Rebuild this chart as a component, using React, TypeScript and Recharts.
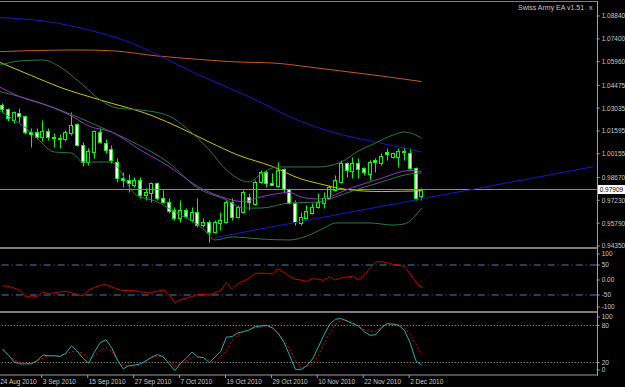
import { ComposedChart, Line, Bar, XAxis, YAxis, ReferenceLine } from "recharts";

// ---- layout ----
const BAR = 5.74; // px per bar on the time axis
const FUTURE = 30; // empty bars right of the last candle
const AXIS_W = 28;
const FONT = '"Liberation Sans", Arial, sans-serif';
const TXT = "#c8c8c8";
const AXIS = "#a0a0a0";
const LIME = "#00ff00";
const BB = "#277a45";

// ---- data (daily bars, 25 Aug .. 6 Dec 2010) ----
const opens = [
  1.0323, 1.0298, 1.0229, 1.0273, 1.0254, 1.0153, 1.0153, 1.0122, 1.016, 1.0122,
  1.0115, 1.0109, 1.0147, 1.0204, 1.0071, 0.9964, 1.0027, 1.0153, 1.0084, 1.0046,
  0.9964, 0.9863, 0.9851, 0.9819, 0.9851, 0.9756, 0.9769, 0.9832, 0.9737, 0.9712,
  0.9662, 0.9611, 0.9662, 0.9599, 0.9649, 0.9567, 0.9586, 0.9523, 0.958, 0.9586,
  0.9712, 0.9618, 0.9649, 0.9744, 0.97, 0.9838, 0.9901, 0.9832, 0.9813, 0.992,
  0.9794, 0.9706, 0.958, 0.9611, 0.9643, 0.9681, 0.9706, 0.9737, 0.9788, 0.9838,
  0.9958, 0.9907, 0.9958, 0.9926, 0.9889, 0.9977, 0.9958, 1.0027, 0.9996, 0.9996,
  1.0034, 1.0021, 0.9926, 0.975,
];
const highs = [
  1.0336, 1.0304, 1.0286, 1.0304, 1.026, 1.0178, 1.0178, 1.0229, 1.0178, 1.0147,
  1.0141, 1.0166, 1.0279, 1.021, 1.009, 1.0052, 1.0166, 1.0178, 1.0109, 1.0071,
  0.9989, 0.9901, 0.9889, 0.987, 0.987, 0.98, 0.9838, 0.9838, 0.9788, 0.9737,
  0.9681, 0.9725, 0.9674, 0.9681, 0.9737, 0.9611, 0.9599, 0.9599, 0.9649, 0.9725,
  0.9737, 0.9693, 0.9788, 0.9769, 0.9851, 0.9914, 0.9914, 0.9895, 0.9964, 0.9926,
  0.98, 0.9725, 0.9649, 0.9693, 0.9706, 0.9769, 0.9775, 0.9819, 0.9882, 0.9977,
  0.9964, 0.9996, 0.9989, 0.9933, 0.9977, 0.9989, 1.0021, 1.0052, 1.0027, 1.0052,
  1.0059, 1.0052, 0.9933, 0.98,
];
const lows = [
  1.0279, 1.0223, 1.021, 1.0216, 1.0141, 1.0059, 1.0109, 1.0097, 1.0103, 1.0059,
  1.0052, 1.0097, 1.0134, 1.0065, 0.9939, 0.9945, 0.9989, 1.0084, 1.0021, 0.9958,
  0.9838, 0.9807, 0.9775, 0.9807, 0.9737, 0.9725, 0.9712, 0.9725, 0.9706, 0.9643,
  0.9599, 0.9586, 0.9611, 0.9586, 0.9555, 0.9555, 0.946, 0.9517, 0.9536, 0.958,
  0.9599, 0.9611, 0.9643, 0.9662, 0.9693, 0.9832, 0.9807, 0.9819, 0.9807, 0.9769,
  0.97, 0.9567, 0.9567, 0.9605, 0.9637, 0.9674, 0.9674, 0.9731, 0.9782, 0.9832,
  0.987, 0.9863, 0.9863, 0.9882, 0.9851, 0.9901, 0.9945, 0.9977, 0.9989, 0.9933,
  0.9977, 0.9914, 0.9725, 0.9725,
];
const closes = [
  1.0298, 1.0241, 1.0279, 1.0254, 1.0153, 1.0141, 1.0122, 1.016, 1.0122, 1.0115,
  1.0109, 1.0153, 1.0197, 1.0071, 0.9964, 1.0034, 1.016, 1.009, 1.004, 0.9977,
  0.9863, 0.9851, 0.9832, 0.9851, 0.9756, 0.9775, 0.9832, 0.9737, 0.9712, 0.9656,
  0.9611, 0.9662, 0.9624, 0.9649, 0.9567, 0.9586, 0.9523, 0.9586, 0.9599, 0.9712,
  0.9618, 0.9681, 0.9775, 0.9712, 0.9838, 0.9901, 0.9832, 0.9819, 0.9914, 0.9794,
  0.9706, 0.9586, 0.9618, 0.9656, 0.9681, 0.9712, 0.9737, 0.9807, 0.9851, 0.9958,
  0.9914, 0.9958, 0.992, 0.9901, 0.9964, 0.9964, 1.0002, 1.0015, 1.0021, 1.0034,
  1.0027, 0.9926, 0.9737, 0.97909,
];
const LAST = 0.97909;

const cci = [
  -20, -20, -27, -33, -57, -53, -55, -40, -45, -43,
  -40, -37, -43, -48, -53, -33, -25, -18, -15, -23,
  -30, -35, -35, -35, -40, -41, -41, -37, -33, -48,
  -76, -65, -60, -55, -48, -48, -50, -42, -35, -9,
  -30, -13, -3, 7, 22, 23, 22, 20, 37, 25,
  12, 2, 0, -5, 5, 2, -1, 11, 0, 7,
  10, 13, 1, 15, 40, 60, 61, 58, 52, 50,
  45, 20, -7, -25,
];
const stochMain = [
  42, 32, 21, 18, 18, 18, 23, 32, 31, 31,
  30, 35, 47, 39, 27, 19, 37, 52, 57, 44,
  24, 10, 15, 16, 18, 23, 29, 33, 29, 18,
  7, 19, 27, 37, 29, 28, 20, 29, 38, 61,
  62, 68, 70, 73, 78, 79, 80, 76, 67, 53,
  32, 9, 9, 15, 26, 45, 65, 82, 90, 91,
  87, 83, 79, 70, 64, 65, 76, 83, 82, 80,
  72, 52, 23, 16,
];
const stochSignal = [
  40, 32, 24, 21, 19, 19, 23, 27, 31, 31,
  31, 34, 38, 38, 35, 26, 31, 39, 45, 39,
  24, 15, 15, 14, 16, 23, 28, 30, 31, 22,
  14, 18, 23, 28, 30, 27, 24, 20, 30, 40,
  55, 65, 69, 73, 76, 77, 79, 76, 69, 56,
  42, 24, 11, 14, 18, 32, 50, 68, 82, 89,
  88, 86, 77, 73, 71, 70, 77, 81, 82, 81,
  76, 65, 50, 32,
];

// moving averages / bands read at a few bars each: [slot, price]
const maSlow = [[0, 1.0659], [14, 1.067], [20, 1.0665], [28, 1.0632], [35, 1.0611], [41, 1.0596], [49, 1.0586], [53, 1.0569], [61, 1.0533], [67, 1.0506], [74, 1.0471]];
const maBlue = [[0, 1.0875], [9, 1.0848], [18, 1.0777], [23, 1.072], [27, 1.0657], [35, 1.0516], [44, 1.0374], [53, 1.0219], [59, 1.0147], [65, 1.0097], [70, 1.0059], [74, 1.0027]];
const maYellow = [[0, 1.06], [6, 1.0509], [11, 1.0435], [18, 1.0355], [27, 1.0257], [32, 1.0178], [37, 1.009], [42, 1.0008], [48, 0.9936], [53, 0.9857], [56, 0.9829], [61, 0.9791], [67, 0.9778], [74, 0.9783]];
const maPurple = [[0, 1.0446], [4, 1.0376], [9, 1.0317], [13, 1.0254], [16, 1.0191], [20, 1.0153], [25, 1.004], [30, 0.9936], [35, 0.981], [39, 0.9746], [43, 0.9714], [46, 0.9744], [51, 0.9772], [53, 0.9744], [56, 0.9731], [62, 0.9804], [67, 0.9862], [72, 0.9911], [74, 0.9904]];
const bbUpper = [[0, 1.0569], [4, 1.0601], [8, 1.0607], [11, 1.0563], [15, 1.0449], [18, 1.0355], [21, 1.0304], [25, 1.0292], [30, 1.0254], [33, 1.0178], [37, 1.004], [40, 0.9914], [44, 0.9838], [46, 0.9889], [49, 0.9933], [56, 0.9933], [60, 0.9964], [63, 1.0034], [66, 1.0084], [69, 1.0134], [71, 1.0153], [74, 1.0115]];
const bbMiddle = [[0, 1.0412], [6, 1.0355], [11, 1.0292], [18, 1.0185], [24, 1.0084], [30, 0.9958], [35, 0.98], [40, 0.9725], [43, 0.9674], [46, 0.9674], [51, 0.9706], [56, 0.9712], [59, 0.9744], [62, 0.9782], [67, 0.9838], [72, 0.9889], [74, 0.9895]];
const bbLower = [[0, 1.0298], [6, 1.0153], [10, 1.0027], [13, 1.0021], [15, 0.9964], [20, 0.9964], [21, 0.9933], [24, 0.9763], [28, 0.9712], [31, 0.9649], [33, 0.9611], [36, 0.9542], [38, 0.9473], [41, 0.9492], [46, 0.9479], [51, 0.9473], [54, 0.9498], [57, 0.9548], [59, 0.958], [65, 0.958], [69, 0.9567], [71, 0.9574], [74, 0.9674]];
const trendLine = [[38, 0.9488], [104, 0.9935]];

const priceTicks = [1.0884, 1.074, 1.0596, 1.04475, 1.03035, 1.01595, 1.00155, 0.9867, LAST, 0.9723, 0.9579, 0.9435];
const cciTicks = [100, 50, 0, -50, -100];
const stochTicks = [100, 80, 20, 0];
const dateLabels = ["24 Aug 2010", "3 Sep 2010", "15 Sep 2010", "27 Sep 2010", "7 Oct 2010", "19 Oct 2010", "29 Oct 2010", "10 Nov 2010", "22 Nov 2010", "2 Dec 2010"];
const dateSlots = [0, 8, 16, 24, 32, 40, 48, 56, 64, 72];

// ---- table: slot 0 is the bar before the first visible candle ----
const N = 1 + opens.length + FUTURE;
const rows: any[] = Array.from({ length: N }, (_, k) => ({ k }));
opens.forEach((o, i) => {
  Object.assign(rows[i + 1], {
    o, h: highs[i], l: lows[i], c: closes[i],
    cci: cci[i], sk: stochMain[i], sd: stochSignal[i],
  });
});
const put = (key: string, pts: number[][]) => pts.forEach(([k, v]) => (rows[k][key] = v));
put("maSlow", maSlow);
put("maBlue", maBlue);
put("maYellow", maYellow);
put("maPurple", maPurple);
put("bbU", bbUpper);
put("bbM", bbMiddle);
put("bbL", bbLower);
put("trend", trendLine);

const dateMap: Record<number, string> = {};
dateSlots.forEach((k, i) => (dateMap[k] = dateLabels[i]));

const CW = N * BAR + AXIS_W;

function Candle(props: any) {
  const { x, y, width, height, payload } = props;
  if (!payload || payload.o == null) return <g />;
  const { o, h, l, c } = payload;
  const top = Math.min(y, y + height);
  const span = Math.abs(height);
  const ppu = span / (h - l || 1);
  const py = (v: number) => Math.round(top + (h - v) * ppu) + 0.5;
  const c0 = Math.floor(x + width / 2);
  const bull = c >= o;
  const y1 = py(Math.max(o, c));
  const y2 = py(Math.min(o, c));
  return (
    <g>
      <line x1={c0 + 0.5} x2={c0 + 0.5} y1={py(h)} y2={py(l)} stroke={LIME} strokeWidth={1} />
      {y2 - y1 < 1 ? (
        <line x1={c0 - 1.5} x2={c0 + 2.5} y1={y1} y2={y1} stroke={LIME} />
      ) : (
        <rect x={c0 - 1.5} y={y1} width={3} height={y2 - y1} fill={bull ? "#000" : "#fff"} stroke={LIME} strokeWidth={1} />
      )}
    </g>
  );
}

function PriceTick({ x, y, payload }: any) {
  const v = payload.value;
  if (v === LAST) {
    return (
      <g>
        <rect x={x + 1} y={y - 4.5} width={28} height={9} fill="#fff" />
        <text x={x + 3} y={y + 2.5} fontSize={6.5} fontFamily={FONT} fill="#000">{v.toFixed(5)}</text>
      </g>
    );
  }
  return (
    <g>
      <line x1={x} x2={x + 3} y1={y} y2={y} stroke={AXIS} />
      <text x={x + 5} y={y + 2.5} fontSize={6.5} fontFamily={FONT} fill={TXT}>{v.toFixed(5)}</text>
    </g>
  );
}

function makeLevelTick(shift: Record<number, number>, fmt: (v: number) => string) {
  return ({ x, y, payload }: any) => {
    const v = payload.value;
    const dy = shift[v] || 0;
    return (
      <g>
        <line x1={x} x2={x + 3} y1={y + dy} y2={y + dy} stroke={AXIS} />
        <text x={x + 5} y={y + dy + 2.5} fontSize={6.5} fontFamily={FONT} fill={TXT}>{fmt(v)}</text>
      </g>
    );
  };
}
const CciTick = makeLevelTick({ 100: 4, [-100]: -3 }, (v) => (v === 0 ? "0.00" : String(v)));
const StochTick = makeLevelTick({ 100: 4, 0: -5 }, (v) => String(v));

function DateTick({ x, y, payload }: any) {
  const label = dateMap[payload.value];
  if (!label) return <g />;
  // first label would start left of the window edge; keep it inside
  const tx = Math.max(x, BAR + 0.5);
  return (
    <g>
      <line x1={x - 1} x2={x - 1} y1={y} y2={y + 3} stroke={AXIS} />
      <text x={tx} y={y + 9.5} fontSize={6.5} fontFamily={FONT} fill={TXT}>{label}</text>
    </g>
  );
}

const lineProps = { dot: false, activeDot: false, connectNulls: true, isAnimationActive: false, strokeWidth: 1 } as const;

export default function App() {
  return (
    <div style={{ position: "fixed", left: 0, top: 0, width: 625, height: 387, background: "#000", overflow: "hidden", fontFamily: FONT }}>
      {/* main price window */}
      <div style={{ position: "absolute", left: -BAR, top: 0 }}>
        <ComposedChart width={CW} height={250} data={rows} margin={{ top: 2, right: 0, bottom: 4, left: 0 }}>
          <XAxis dataKey="k" scale="band" hide />
          <YAxis
            orientation="right"
            width={AXIS_W}
            domain={[0.9435, 1.09722]}
            allowDataOverflow
            ticks={priceTicks}
            interval={0}
            tick={(p: any) => <PriceTick {...p} />}
            tickSize={0}
            tickMargin={0}
            axisLine={false}
            tickLine={false}
          />
          <Bar dataKey={(r: any) => (r.o == null ? null : [r.l, r.h])} barSize={4} shape={(p: any) => <Candle {...p} />} isAnimationActive={false} />
          <ReferenceLine y={LAST} stroke="#8c8c8c" />
          <Line dataKey="maSlow" type="monotone" stroke="#c4582a" {...lineProps} />
          <Line dataKey="maBlue" type="monotone" stroke="#1818c8" {...lineProps} />
          <Line dataKey="maYellow" type="monotone" stroke="#c8c800" {...lineProps} />
          <Line dataKey="bbU" type="monotone" stroke={BB} {...lineProps} />
          <Line dataKey="bbM" type="monotone" stroke={BB} {...lineProps} />
          <Line dataKey="bbL" type="monotone" stroke={BB} {...lineProps} />
          <Line dataKey="maPurple" type="monotone" stroke="#9932cc" {...lineProps} />
          <Line dataKey="trend" type="linear" stroke="#1818c8" {...lineProps} />
        </ComposedChart>
      </div>

      {/* CCI window */}
      <div style={{ position: "absolute", left: -BAR, top: 248 }}>
        <ComposedChart width={CW} height={65} data={rows} margin={{ top: 2, right: 0, bottom: 3, left: 0 }}>
          <XAxis dataKey="k" scale="band" hide />
          <YAxis
            orientation="right"
            width={AXIS_W}
            domain={[-100, 100]}
            allowDataOverflow
            ticks={cciTicks}
            interval={0}
            tick={(p: any) => <CciTick {...p} />}
            tickSize={0}
            tickMargin={0}
            axisLine={false}
            tickLine={false}
          />
          <ReferenceLine y={50} stroke="#4682b4" strokeDasharray="7 3 1 3" />
          <ReferenceLine y={-50} stroke="#4682b4" strokeDasharray="7 3 1 3" />
          <Line dataKey="cci" type="linear" stroke="#cc0000" {...lineProps} />
        </ComposedChart>
      </div>

      {/* Stochastic window */}
      <div style={{ position: "absolute", left: -BAR, top: 311 }}>
        <ComposedChart width={CW} height={76} data={rows} margin={{ top: 2, right: 0, bottom: 0, left: 0 }}>
          <XAxis
            dataKey="k"
            scale="band"
            height={12}
            interval={0}
            tick={(p: any) => <DateTick {...p} />}
            tickSize={0}
            tickMargin={0}
            tickLine={false}
            axisLine={{ stroke: AXIS }}
          />
          <YAxis
            orientation="right"
            width={AXIS_W}
            domain={[0, 100]}
            allowDataOverflow
            ticks={stochTicks}
            interval={0}
            tick={(p: any) => <StochTick {...p} />}
            tickSize={0}
            tickMargin={0}
            axisLine={false}
            tickLine={false}
          />
          <ReferenceLine y={80} stroke="#c0c0c0" strokeDasharray="1 2" />
          <ReferenceLine y={20} stroke="#c0c0c0" strokeDasharray="1 2" />
          <Line dataKey="sd" type="linear" stroke="#e00000" strokeDasharray="2 2" dot={false} activeDot={false} isAnimationActive={false} />
          <Line dataKey="sk" type="linear" stroke="#20b2aa" {...lineProps} />
        </ComposedChart>
      </div>

      {/* window frame and separators */}
      <div style={{ position: "absolute", left: 0, top: 1, width: 597, height: 1, background: "#808080" }} />
      <div style={{ position: "absolute", left: 597, top: 1, width: 1, height: 375, background: AXIS }} />
      <div style={{ position: "absolute", left: 0, top: 247, width: 597, height: 2, background: "#7a7a7a" }} />
      <div style={{ position: "absolute", left: 0, top: 311, width: 597, height: 2, background: "#7a7a7a" }} />

      <div style={{ position: "absolute", left: 518, top: 4, fontSize: 7, lineHeight: "8px", color: TXT, whiteSpace: "nowrap" }}>
        Swiss Army EA v1.51 <span style={{ marginLeft: 3 }}>x</span>
      </div>
    </div>
  );
}
